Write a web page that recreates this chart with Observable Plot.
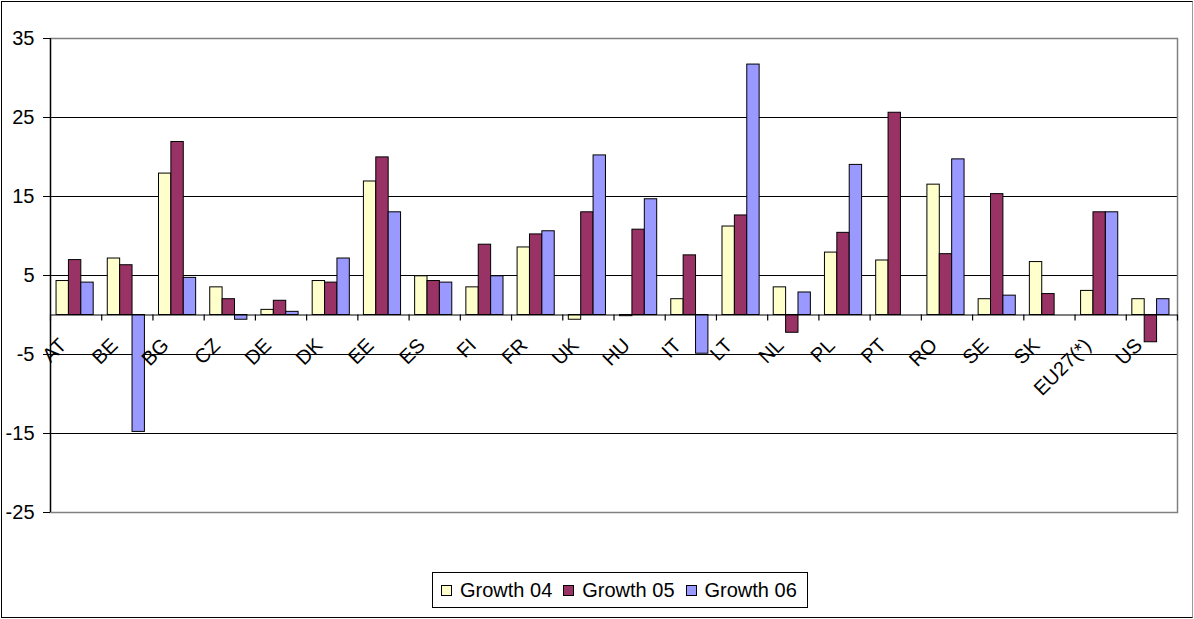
<!DOCTYPE html>
<html>
<head>
<meta charset="utf-8">
<script src="https://cdn.jsdelivr.net/npm/d3@7"></script>
<script src="https://cdn.jsdelivr.net/npm/@observablehq/plot@0.6"></script>
<style>
  html, body { margin: 0; padding: 0; background: #fff; }
  body { font-family: Arial, "Liberation Sans", sans-serif; }
  #wrap { position: relative; width: 1194px; height: 619px; overflow: hidden; background: #fff; }
  #frame { position: absolute; left: 1px; top: 1px; width: 1190px; height: 615px;
           border: 1px solid #000; border-right-color: #9a9a9a; pointer-events: none; }
  #chart { position: absolute; left: 0; top: 0; }
  #legend { position: absolute; left: 432px; top: 572px; height: 34px; box-sizing: content-box;
            border: 1px solid #000; background: #fff; display: flex; align-items: center;
            padding: 0 10px 0 8px; font-size: 20px; color: #000; white-space: nowrap; }
  #legend .item { display: flex; align-items: center; }
  #legend .item + .item { margin-left: 11px; }
  #legend .sw { width: 9px; height: 9px; border: 1px solid #000; margin-right: 8px; }
</style>
</head>
<body>
<div id="wrap">
  <div id="chart"></div>
  <div id="legend"></div>
  <div id="frame"></div>
</div>
<script>
const countries = ["AT","BE","BG","CZ","DE","DK","EE","ES","FI","FR","UK","HU","IT","LT","NL","PL","PT","RO","SE","SK","EU27(*)","US"];
const growth04 = [4.3, 7.15, 17.9, 3.5, 0.65, 4.3, 16.9, 4.9, 3.5, 8.55, -0.6, -0.15, 2.0, 11.2, 3.5, 7.9, 6.9, 16.5, 2.0, 6.7, 3.05, 2.0];
const growth05 = [6.95, 6.3, 21.9, 2.0, 1.8, 4.1, 19.95, 4.3, 8.9, 10.2, 13.0, 10.8, 7.55, 12.6, -2.25, 10.4, 25.6, 7.7, 15.3, 2.65, 13.0, -3.45];
const growth06 = [4.1, -14.8, 4.7, -0.6, 0.4, 7.15, 13.0, 4.1, 4.9, 10.6, 20.2, 14.65, -4.9, 31.7, 2.85, 19.0, null, 19.7, 2.45, null, 13.0, 2.0];
const seriesNames = ["Growth 04", "Growth 05", "Growth 06"];
const seriesColors = ["#FFFFCC", "#993366", "#9999FF"];
const yTicks = [-25, -15, -5, 5, 15, 25, 35];
const gridLines = [-15, -5, 5, 15, 25];

// group layout inside each category slot (fractions of the slot)
const groupStart = 0.118, barW = 0.2417;

const rows = [];
[growth04, growth05, growth06].forEach((vals, k) => {
  vals.forEach((v, i) => {
    if (v != null) rows.push({country: countries[i], i, k, series: seriesNames[k], value: v});
  });
});

const chart = Plot.plot({
  width: 1194,
  height: 540,
  marginLeft: 50,
  marginRight: 17,
  marginTop: 38,
  marginBottom: 28,
  x: {domain: [0, countries.length], axis: null},
  y: {domain: [-25, 35], axis: null},
  color: {domain: seriesNames, range: seriesColors},
  style: {fontFamily: "Arial, 'Liberation Sans', sans-serif", fontSize: "20px", background: "transparent", color: "#000", overflow: "visible"},
  marks: [
    Plot.ruleY(gridLines, {stroke: "#000", strokeWidth: 1}),
    Plot.frame({stroke: "#808080", strokeWidth: 1.5}),
    Plot.rect(rows, {
      x1: d => d.i + groupStart + d.k * barW,
      x2: d => d.i + groupStart + (d.k + 1) * barW,
      y1: 0,
      y2: "value",
      fill: "series",
      stroke: "#000",
      strokeWidth: 1
    }),
    Plot.ruleY([0], {stroke: "#000", strokeWidth: 1.2}),
    Plot.ruleX(d3.range(countries.length + 1), {x: d => d, y1: 0, y2: 0, insetBottom: -6, stroke: "#000", strokeWidth: 1.2}),
    Plot.ruleX([0], {stroke: "#000", strokeWidth: 1.3}),
    Plot.axisY({ticks: yTicks, tickSize: 7, tickPadding: 9, fontSize: 20, tickFormat: d => String(d), anchor: "left", label: null, stroke: "#000"}),
    Plot.text(countries, {
      x: (d, i) => i + 0.5,
      y: 0,
      text: d => d,
      rotate: -45,
      textAnchor: "end",
      dx: -13,
      dy: 27,
      fontSize: 20,
      fill: "#000"
    })
  ]
});
document.getElementById("chart").appendChild(chart);

const legend = document.getElementById("legend");
seriesNames.forEach((name, k) => {
  const item = document.createElement("div");
  item.className = "item";
  const sw = document.createElement("span");
  sw.className = "sw";
  sw.style.background = seriesColors[k];
  const label = document.createElement("span");
  label.textContent = name;
  item.appendChild(sw);
  item.appendChild(label);
  legend.appendChild(item);
});
</script>
</body>
</html>
